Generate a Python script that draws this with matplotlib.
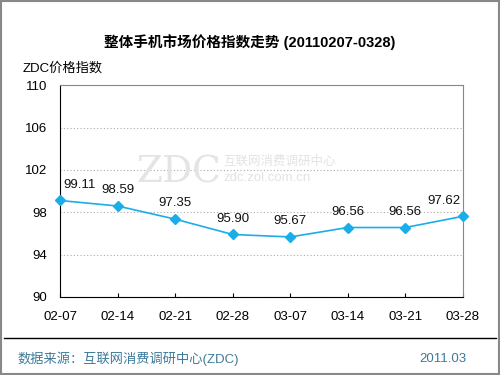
import matplotlib.pyplot as plt
from matplotlib.lines import Line2D
from matplotlib.patches import Rectangle

plt.rcParams['font.family'] = ['Liberation Sans', 'Noto Sans CJK SC', 'DejaVu Sans']

dates = ["02-07", "02-14", "02-21", "02-28", "03-07", "03-14", "03-21", "03-28"]
index_values = [99.11, 98.59, 97.35, 95.90, 95.67, 96.56, 96.56, 97.62]
y_ticks = [90, 94, 98, 102, 106, 110]

line_color = "#1AAEE8"

fig = plt.figure(figsize=(5, 3.75), dpi=100)
ax = fig.add_axes([0.12, 0.208, 0.806, 0.565])

x = list(range(len(dates)))
ax.plot(x, index_values, color=line_color, linewidth=1.2, marker="D",
        markersize=5, markerfacecolor=line_color, markeredgecolor=line_color,
        zorder=3, clip_on=False)
for xi, v in zip(x, index_values):
    dx = 0
    if xi == 0:
        dx = 14
    elif xi == len(x) - 1:
        dx = -14
    ax.annotate("%.2f" % v, (xi, v), xytext=(dx, 7), textcoords="offset points",
                ha="center", va="bottom", fontsize=9.5, color="#111111")

ax.set_xlim(0, len(dates) - 1)
ax.set_ylim(90, 110)
ax.set_yticks(y_ticks)
ax.set_yticklabels([str(t) for t in y_ticks], fontsize=9.5)
ax.set_xticks(x)
ax.set_xticklabels(dates, fontsize=9.5)
ax.tick_params(axis="y", length=0, pad=9)
ax.tick_params(axis="x", direction="in", length=3, pad=10, color="black")
ax.grid(True, axis="y", color="#AAAAAA", linestyle=(0, (1, 2)), linewidth=0.8)
ax.set_axisbelow(True)
for side in ["left", "bottom"]:
    ax.spines[side].set_color("black")
for side in ["top", "right"]:
    ax.spines[side].set_color("#888888")

# watermark
fig.text(0.272, 0.541, "ZDC", fontsize=27, color="#E4E4E4", family="DejaVu Serif",
         ha="left", va="center", zorder=0)
fig.text(0.446, 0.57, "互联网消费调研中心", fontsize=9, color="#E3E3E3",
         ha="left", va="center", zorder=0)
fig.text(0.446, 0.525, "zdc.zol.com.cn", fontsize=9.5, color="#E3E3E3",
         ha="left", va="center", zorder=0)

fig.text(0.5, 0.888, "整体手机市场价格指数走势 (20110207-0328)", fontsize=10.5,
         fontweight="bold", ha="center", va="center")
fig.text(0.045, 0.818, "ZDC价格指数", fontsize=9.5, ha="left", va="center")

fig.add_artist(Line2D([0.008, 0.992], [0.099, 0.099], color="black", linewidth=1))
fig.text(0.035, 0.042, "数据来源：互联网消费调研中心(ZDC)", fontsize=9.5, color="#3E7A9A",
         ha="left", va="center")
fig.text(0.932, 0.042, "2011.03", fontsize=9.5, color="#3E7A9A",
         ha="right", va="center")
fig.add_artist(Rectangle((0.002, 0.003), 0.996, 0.994, fill=False,
                         edgecolor="#888888", linewidth=1.5, transform=fig.transFigure))

fig.savefig("out.png", dpi=100)
